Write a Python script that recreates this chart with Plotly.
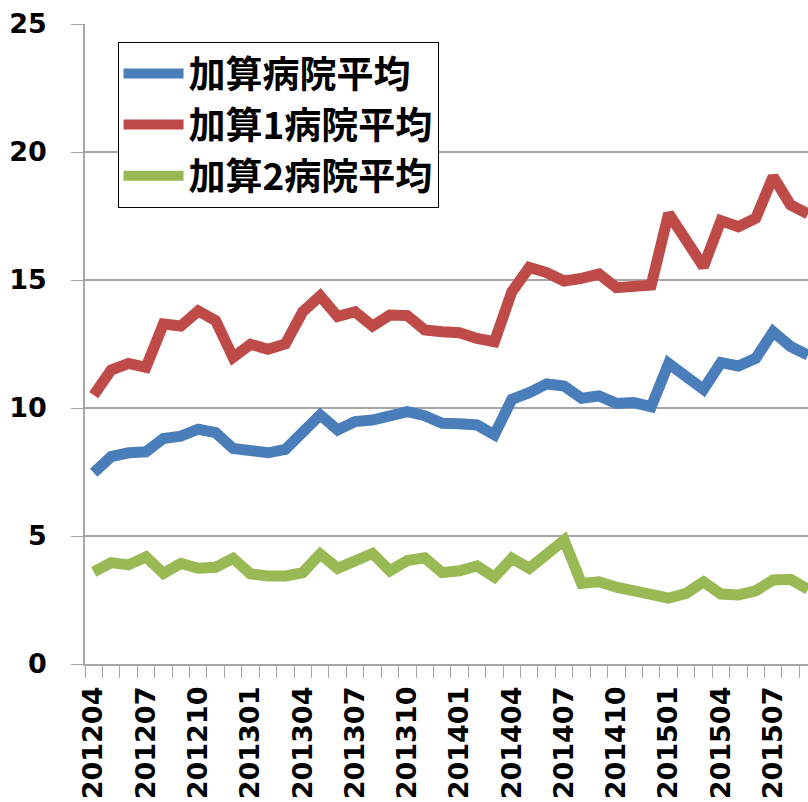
import plotly.graph_objects as go

# 月次（201204〜201509）
months = [
    "201204", "201205", "201206", "201207", "201208", "201209", "201210", "201211", "201212",
    "201301", "201302", "201303", "201304", "201305", "201306", "201307", "201308", "201309",
    "201310", "201311", "201312", "201401", "201402", "201403", "201404", "201405", "201406",
    "201407", "201408", "201409", "201410", "201411", "201412", "201501", "201502", "201503",
    "201504", "201505", "201506", "201507", "201508", "201509",
]

avg_all = [
    7.47, 8.10, 8.25, 8.29, 8.81, 8.90, 9.17, 9.04, 8.42, 8.38, 8.25, 8.38, 9.08, 9.73,
    9.14, 9.47, 9.53, 9.66, 9.86, 9.70, 9.40, 9.38, 9.34, 8.95, 10.34, 10.60, 10.94, 10.86,
    10.38, 10.47, 10.18, 10.21, 10.05, 11.74, 11.22, 10.73, 11.77, 11.64, 11.94, 12.98,
    12.40, 12.07,
]
avg_k1 = [
    10.50, 11.48, 11.74, 11.59, 13.28, 13.20, 13.79, 13.41, 11.98, 12.49, 12.29, 12.50,
    13.76, 14.38, 13.57, 13.76, 13.20, 13.63, 13.61, 13.05, 12.98, 12.94, 12.72, 12.59,
    14.54, 15.49, 15.29, 14.96, 15.06, 15.23, 14.70, 14.80, 14.80, 17.60, 16.56, 15.52,
    17.32, 17.08, 17.41, 19.04, 17.93, 17.58,
]
avg_k2 = [
    3.60, 3.96, 3.87, 4.19, 3.54, 3.93, 3.74, 3.78, 4.13, 3.52, 3.44, 3.44, 3.57, 4.30,
    3.74, 4.09, 4.32, 3.64, 4.04, 4.15, 3.57, 3.64, 3.83, 3.39, 4.13, 3.74, 4.35, 4.84,
    3.15, 3.21, 3.00, 2.83, 2.63, 2.57, 2.76, 3.21, 2.73, 2.70, 2.86, 3.28, 3.31, 2.92,
]

tick_text = [m if i % 3 == 0 else "" for i, m in enumerate(months)]

BLUE, RED, GREEN = "#4A7EBB", "#BE4B48", "#98B954"
GRID = "#A6A6A6"

fig = go.Figure()
for name, vals, col in [
    ("加算病院平均", avg_all, BLUE),
    ("加算1病院平均", avg_k1, RED),
    ("加算2病院平均", avg_k2, GREEN),
]:
    fig.add_trace(go.Scatter(x=months, y=vals, name=name, mode="lines", legendgroup=name,
                             line=dict(color=col, width=11)))

fig.update_layout(
    width=808, height=802,
    margin=dict(l=85, r=0, t=24, b=138),
    paper_bgcolor="white", plot_bgcolor="white",
    font=dict(family="DejaVu Sans", color="black"),
    legend=dict(
        x=0.045, y=0.972, xanchor="left", yanchor="top",
        bgcolor="white", bordercolor="black", borderwidth=1,
        font=dict(family="Noto Sans CJK JP", size=37, color="black", weight="bold"),
        itemwidth=60, tracegroupgap=0,
    ),
    showlegend=True,
)
fig.update_xaxes(
    type="category", range=[-0.5, 41.0], automargin=False,
    tickmode="array", tickvals=months, ticktext=tick_text,
    tickson="boundaries", ticks="outside", ticklen=12, tickcolor=GRID,
    tickangle=-90, tickfont=dict(family="DejaVu Sans", size=27, weight="bold"),
    showline=True, linecolor=GRID, linewidth=1.5, showgrid=False,
    ticklabelstandoff=10,
)
fig.update_yaxes(
    range=[0, 25], dtick=5, ticks="outside", ticklen=12, tickcolor=GRID, automargin=False,
    tickfont=dict(family="DejaVu Sans", size=27, weight="bold"),
    showline=True, linecolor=GRID, linewidth=1.5,
    showgrid=True, gridcolor=GRID, gridwidth=1.5, zeroline=False,
    ticklabelstandoff=19,
)

# drop the default 8px page margin so the figure sits at the window's corner
fig.write_html("out.html", config={"displayModeBar": False},
               post_script="document.body.style.margin='0';")
